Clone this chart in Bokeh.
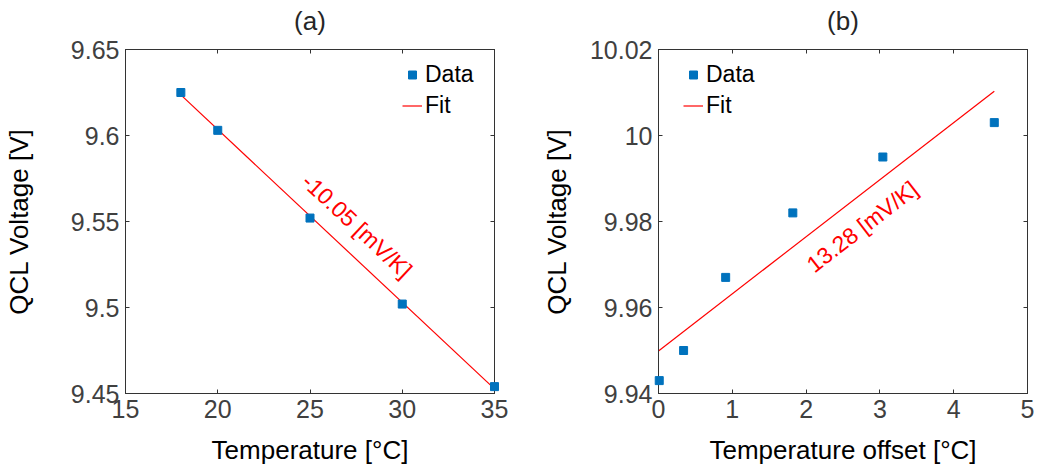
from bokeh.plotting import figure
from bokeh.layouts import row
from bokeh.models import (Range1d, FixedTicker, LinearAxis, Legend, LegendItem,
                          CustomJSTickFormatter)
from bokeh.core.properties import value
from bokeh.embed import file_html
from bokeh.resources import INLINE

FONT = "Liberation Sans"

# ---------------- data: panel (a) ----------------
a_temp = [18, 20, 25, 30, 35]
a_volt = [9.625, 9.603, 9.552, 9.502, 9.454]
a_fit_x = [18, 35]
a_fit_y = [9.6236, 9.4527]
a_x_ticks = [15, 20, 25, 30, 35]
a_x_tick_labels = ["15", "20", "25", "30", "35"]
a_y_ticks = [9.45, 9.5, 9.55, 9.6, 9.65]
a_y_tick_labels = ["9.45", "9.5", "9.55", "9.6", "9.65"]
a_slope_label = "-10.05 [mV/K]"

# ---------------- data: panel (b) ----------------
b_offset = [0.01, 0.34, 0.91, 1.82, 3.04, 4.55]
b_volt = [9.943, 9.950, 9.967, 9.982, 9.995, 10.003]
b_fit_x = [0.0, 4.55]
b_fit_y = [9.9499, 10.0103]
b_x_ticks = [0, 1, 2, 3, 4, 5]
b_x_tick_labels = ["0", "1", "2", "3", "4", "5"]
b_y_ticks = [9.94, 9.96, 9.98, 10.0, 10.02]
b_y_tick_labels = ["9.94", "9.96", "9.98", "10", "10.02"]
b_slope_label = "13.28 [mV/K]"

BLUE = "#0072BD"
RED = "#FF0000"
AXC = "#333333"
TICKC = "#404040"

FRAME_TOP = 49
FRAME_BOTTOM = 393
FRAME_H = FRAME_BOTTOM - FRAME_TOP
TITLE_GAP = 29  # px from frame top to title centre


def panel(title, xs, ys, fx, fy, xr, yr, xt, xtl, yt, ytl, xlabel,
          width, bl, br, ylab_standoff, ann, ann_xy, ann_angle, leg_xy):
    p = figure(width=width, height=469, output_backend="svg", toolbar_location=None,
               x_range=Range1d(*xr), y_range=Range1d(*yr),
               x_axis_type=None, y_axis_type=None,
               min_border_left=bl, min_border_right=br, min_border_top=FRAME_TOP,
               min_border_bottom=469 - FRAME_BOTTOM)
    p.outline_line_color = AXC
    p.outline_line_width = 1
    p.background_fill_color = "white"
    p.border_fill_color = "white"

    def mk_axis(ticks, labels, show):
        ax = LinearAxis(ticker=FixedTicker(ticks=ticks))
        ax.axis_line_color = AXC
        ax.major_tick_line_color = AXC
        ax.major_tick_in = 4
        ax.major_tick_out = 0
        ax.minor_tick_line_color = None
        if show:
            ax.major_label_overrides = {t: l for t, l in zip(ticks, labels)}
            ax.major_label_text_font = FONT
            ax.major_label_text_font_size = "25px"
            ax.major_label_text_color = TICKC
            ax.major_label_standoff = 6
            ax.axis_label_text_font = FONT
            ax.axis_label_text_font_size = "26px"
            ax.axis_label_text_font_style = "normal"
            ax.axis_label_text_color = "#000000"
        else:
            ax.formatter = CustomJSTickFormatter(code="return ''")
            ax.major_label_text_font_size = "0px"
            ax.major_label_standoff = 0
        return ax

    xb = mk_axis(xt, xtl, True)
    xb.axis_label = xlabel
    xb.axis_label_standoff = 14
    p.add_layout(xb, "below")
    yl = mk_axis(yt, ytl, True)
    yl.axis_label = "QCL Voltage [V]"
    yl.axis_label_standoff = ylab_standoff
    p.add_layout(yl, "left")
    p.add_layout(mk_axis(xt, xtl, False), "above")
    p.add_layout(mk_axis(yt, ytl, False), "right")

    # panel title, drawn unclipped just above the frame
    ty = yr[1] + (yr[1] - yr[0]) * TITLE_GAP / FRAME_H
    p.text(x=[(xr[0] + xr[1]) / 2], y=[ty], text=[title], text_align="center",
           text_baseline="middle", text_color="#262626", text_font=value(FONT),
           text_font_size="26px", level="overlay")

    fit = p.line(fx, fy, line_color=RED, line_width=1.2)
    pts = p.scatter(xs, ys, marker="square", size=8, fill_color=BLUE, line_color=BLUE,
                    level="overlay")

    p.text(x=[ann_xy[0]], y=[ann_xy[1]], text=[ann], angle=ann_angle, angle_units="deg",
           text_align="center", text_baseline="middle", text_color=RED,
           text_font=value(FONT), text_font_size="23px")

    leg = Legend(items=[LegendItem(label="Data", renderers=[pts]),
                        LegendItem(label="Fit", renderers=[fit])],
                 location=leg_xy, border_line_color=None, background_fill_alpha=0,
                 padding=0, margin=0, spacing=0, label_standoff=3,
                 glyph_width=20, glyph_height=31, label_height=31,
                 label_text_font=FONT, label_text_font_size="23px",
                 label_text_color="#000000")
    p.add_layout(leg)
    return p


pa = panel("(a)", a_temp, a_volt, a_fit_x, a_fit_y, (15, 35), (9.45, 9.65),
           a_x_ticks, a_x_tick_labels, a_y_ticks, a_y_tick_labels, "Temperature [°C]",
           520, 124, 26, 34, a_slope_label, (27.55, 9.5475), -43.05, (277, 272))
pb = panel("(b)", b_offset, b_volt, b_fit_x, b_fit_y, (0, 5), (9.94, 10.02),
           b_x_ticks, b_x_tick_labels, b_y_ticks, b_y_tick_labels, "Temperature offset [°C]",
           525, 138, 18, 15, b_slope_label, (2.76, 9.9788), 37.7, (25, 272))

layout = row(pa, pb, spacing=0)
open("out.html", "w").write(file_html(layout, INLINE))
